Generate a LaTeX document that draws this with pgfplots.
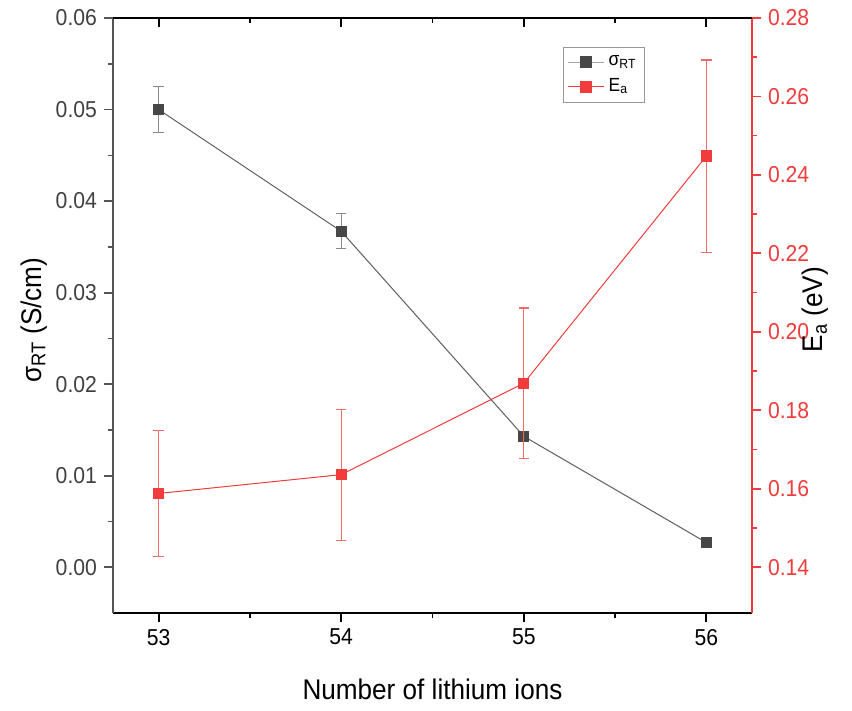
\documentclass[border=0pt]{standalone}
\usepackage{fontspec}
\setmainfont{Liberation Sans}[FakeStretch=0.92]
\usepackage{pgfplots}
\pgfplotsset{compat=1.18}
\definecolor{sgray}{HTML}{474747}
\definecolor{sline}{HTML}{5E5E5E}
\definecolor{egray}{HTML}{8A8A8A}
\definecolor{sred}{HTML}{F03C3C}
\definecolor{ered}{HTML}{F26A6A}
\definecolor{axgray}{HTML}{555555}
\definecolor{lblgray}{HTML}{404040}

\begin{document}
\begin{tikzpicture}[x=1pt,y=1pt]
\useasboundingbox (-56.5,-49) rectangle (369.5,306.5);
\pgfplotsset{every axis/.append style={
  width=319.5pt, height=297.5pt, scale only axis,
  xmin=52.75, xmax=56.25,
  scaled y ticks=false, scaled x ticks=false,
  /pgf/number format/assume math mode=true,
  tick label style={font=\fontsize{11.5}{13}\selectfont},
  label style={font=\fontsize{14.2}{17}\selectfont},
  major tick length=4.5pt, minor tick length=2.5pt,
  every tick/.style={line width=0.9pt},
  every minor tick/.style={line width=0.8pt},
}}

% left axis + bottom axis, sigma series
\begin{axis}[
  axis x line*=bottom, axis y line*=left,
  tick align=outside,
  ymin=-0.005, ymax=0.06,
  ytick={0,0.01,0.02,0.03,0.04,0.05,0.06},
  minor y tick num=1,
  xtick={53,54,55,56}, minor x tick num=1,
  y axis line style={color=axgray, line width=1pt},
  x axis line style={color=black, line width=1pt},
  y tick style={color=axgray},
  x tick style={color=black},
  yticklabel style={color=lblgray, /pgf/number format/fixed, /pgf/number format/fixed zerofill, /pgf/number format/precision=2},
  xticklabel style={color=black},
  xlabel={Number of lithium ions},
  xlabel style={at={(axis description cs:0.5,-0.129)}, anchor=center},
  ylabel={σ\textsubscript{RT} (S/cm)},
  ylabel style={at={(axis description cs:-0.124,0.492)}, anchor=center},
]
\addplot[color=sline, line width=0.5pt, mark=square*, mark size=2.6pt,
  mark options={fill=sgray, draw=sgray, solid},
  error bars/.cd, y dir=both, y explicit,
  error bar style={color=egray, line width=0.6pt},
  error mark options={rotate=90, mark size=2.6pt, color=egray, line width=0.6pt}]
  coordinates {
  (53,0.0500) +- (0,0.0025)
  (54,0.0367) +- (0,0.0019)
  (55,0.0143) +- (0,0.0005)
  (56,0.0027) +- (0,0.0002)
};
\end{axis}

% right axis, Ea series
\begin{axis}[
  axis x line=none, axis y line*=right,
  tick align=outside,
  ymin=0.128333, ymax=0.28,
  ytick={0.14,0.16,0.18,0.20,0.22,0.24,0.26,0.28},
  minor y tick num=1,
  y axis line style={color=sred, line width=1pt},
  y tick style={color=sred},
  yticklabel style={color=sred, /pgf/number format/fixed, /pgf/number format/fixed zerofill, /pgf/number format/precision=2},
  ylabel={E\textsubscript{a} (eV)},
  ylabel style={at={(axis description cs:1.099,0.51)}, anchor=center},
  legend cell align=left,
  legend style={at={(axis description cs:0.704,0.951)}, anchor=north west,
    draw=gray!80, line width=0.6pt, font=\fontsize{9.5}{11}\selectfont,
    inner xsep=2pt, inner ysep=2pt, row sep=1pt},
  legend image code/.code={
    \draw[#1, mark repeat=2, mark phase=2] plot coordinates {(0pt,0pt) (9pt,0pt) (18pt,0pt)};
  },
]
\addlegendimage{color=gray!70, line width=0.6pt, mark=square*, mark size=2.6pt, mark options={fill=sgray, draw=sgray, solid}}
\addlegendentry{σ\textsubscript{RT}}
\addplot[color=sred, line width=0.5pt, mark=square*, mark size=2.6pt,
  mark options={fill=sred, draw=sred, solid},
  error bars/.cd, y dir=both, y explicit,
  error bar style={color=ered, line width=0.6pt},
  error mark options={rotate=90, mark size=2.6pt, color=ered, line width=0.6pt}]
  coordinates {
  (53,0.1588) +- (0,0.0160)
  (54,0.1636) +- (0,0.0167)
  (55,0.1869) +- (0,0.0192)
  (56,0.2448) +- (0,0.0245)
};
\addlegendentry{E\textsubscript{a}}
\end{axis}

% top axis with inward ticks
\begin{axis}[
  axis x line*=top, axis y line=none,
  tick align=inside,
  ymin=0, ymax=1,
  xtick={53,54,55,56}, minor x tick num=1,
  xticklabels={},
  x axis line style={color=black, line width=1pt},
  x tick style={color=black},
]
\end{axis}
\end{tikzpicture}
\end{document}
